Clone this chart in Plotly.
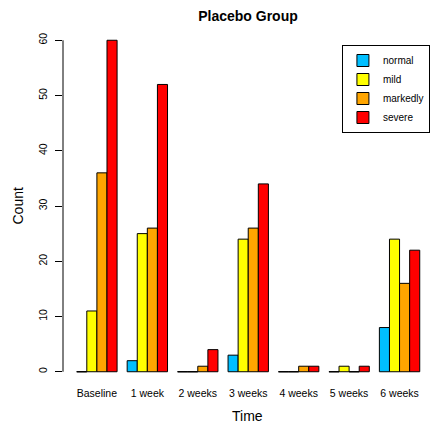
import plotly.graph_objects as go

groups = ["Baseline", "1 week", "2 weeks", "3 weeks", "4 weeks", "5 weeks", "6 weeks"]
normal = [0, 2, 0, 3, 0, 0, 8]
mild = [11, 25, 0, 24, 0, 1, 24]
markedly = [36, 26, 1, 26, 1, 0, 16]
severe = [60, 52, 4, 34, 1, 1, 22]
series_names = ["normal", "mild", "markedly", "severe"]
series_colors = ["#00BFFF", "#FFFF00", "#FFA500", "#FF0000"]
y_ticks = [0, 10, 20, 30, 40, 50, 60]

series = [normal, mild, markedly, severe]
nser = len(series)
step = nser + 1  # one empty bar width between groups (R barplot beside=TRUE)

W, H = 430, 426
L, R, T, B = 63, 0, 27, 41
FONT = "Liberation Sans, Arial, sans-serif"

fig = go.Figure()
zx, zy = [], []
for k, (name, vals, col) in enumerate(zip(series_names, series, series_colors)):
    xs = [1 + g * step + k + 0.5 for g in range(len(groups))]
    fig.add_trace(go.Bar(
        x=xs, y=vals, width=1, name=name,
        marker=dict(color=col, line=dict(color="black", width=1)),
    ))
    for x, v in zip(xs, vals):
        if v == 0:
            zx += [x - 0.5, x + 0.5, None]
            zy += [0, 0, None]

fig.add_trace(go.Scatter(x=zx, y=zy, mode="lines", line=dict(color="black", width=1),
                         showlegend=False, hoverinfo="skip"))

centers = [1 + g * step + nser / 2 for g in range(len(groups))]
xmin, xmax = 1, len(groups) * step
ext = 0.04 * (xmax - xmin)
x_lo = xmin - ext
unit_px = 10.2
x_hi = x_lo + (W - L - R) / unit_px

fig.update_layout(
    width=W, height=H,
    margin=dict(l=L, r=R, t=T, b=B),
    paper_bgcolor="white", plot_bgcolor="white",
    barmode="overlay",
    font=dict(family=FONT, color="black", size=11),
    title=dict(text="<b>Placebo Group</b>", font=dict(size=14, family=FONT),
               x=(250 - L) / (W - L - R), xref="paper", xanchor="center",
               y=1 - 16 / H, yanchor="middle"),
    xaxis=dict(range=[x_lo, x_hi], tickvals=centers, ticktext=groups,
               showline=False, showgrid=False, zeroline=False, ticks="",
               tickfont=dict(size=10.5)),
    yaxis=dict(range=[-2.4, 62.4], tickvals=y_ticks, tickangle=-90,
               showline=False, showgrid=False, zeroline=False,
               ticks="outside", ticklen=7, tickcolor="black", tickwidth=1,
               tickfont=dict(size=10.5), ticklabelstandoff=4),
    legend=dict(x=(345 - L) / (W - L - R), xanchor="left",
                y=(H - B - 45) / (H - B - T), yanchor="top",
                bordercolor="black", borderwidth=1, bgcolor="white",
                font=dict(size=10), tracegroupgap=0),
    showlegend=True,
)
fig.add_shape(type="line", xref="paper", yref="y", x0=0, x1=0, y0=y_ticks[0], y1=y_ticks[-1],
              line=dict(color="black", width=1))
fig.add_annotation(text="Time", xref="paper", yref="paper",
                   x=(250 - L) / (W - L - R), y=-(416 - (H - B)) / (H - B - T),
                   showarrow=False, font=dict(size=14), xanchor="center", yanchor="middle")
fig.add_annotation(text="Count", xref="paper", yref="paper",
                   x=-(L - 17) / (W - L - R), y=0.5, textangle=-90,
                   showarrow=False, font=dict(size=14), xanchor="center", yanchor="middle")

fig.write_html("out.html", config={"displayModeBar": False},
               post_script="document.body.style.margin='0';")
